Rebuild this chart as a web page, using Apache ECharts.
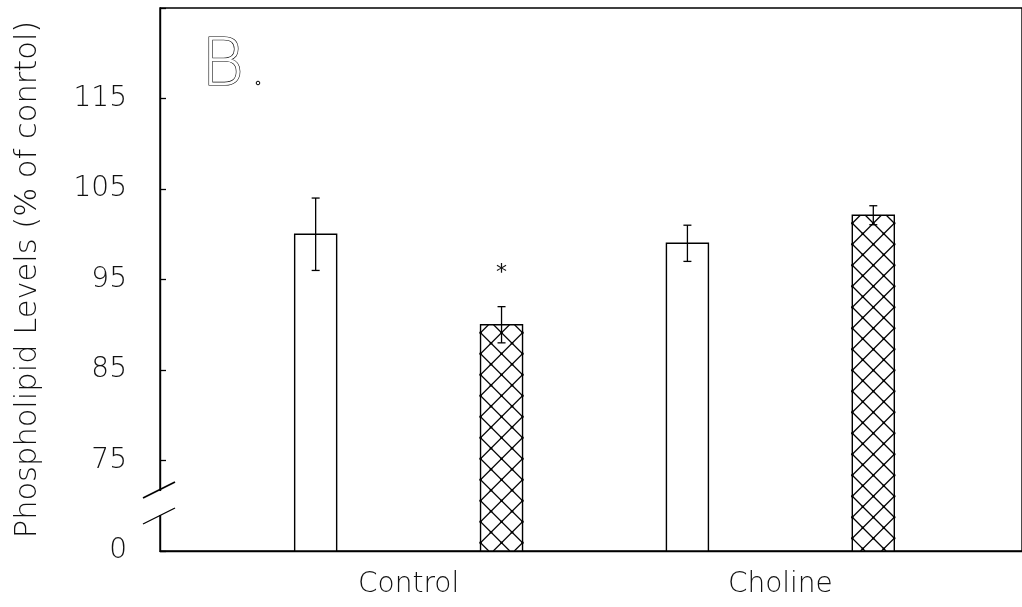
<!DOCTYPE html>
<html>
<head>
<meta charset="utf-8">
<title>Phospholipid Levels</title>
<script src="https://cdn.jsdelivr.net/npm/echarts@6/dist/echarts.min.js"></script>
<style>
  html, body { margin: 0; padding: 0; background: #fff; }
  #chart { width: 1022px; height: 607px; }
</style>
</head>
<body>
<div id="chart"></div>
<script>
// Groups along the x axis
const groups = ['Control', 'Choline'];

// Phospholipid levels, % of control (open bars / cross-hatched bars)
const openValues = [100.0, 99.0];
const openErrors = [4.0, 2.0];
const hatchedValues = [90.0, 102.1];
const hatchedErrors = [2.0, 1.05];
const hatchedSignificance = ['*', ''];

// Y tick labels (the axis is broken between 0 and 75)
const yTickLabels = ['0', '75', '85', '95', '105', '115', ''];

// Axis break: everything from 0 up to 65 is collapsed, so 65 sits on the baseline
const BREAK_BASE = 65;
const FONT = '"DejaVu Sans", sans-serif';
const INK = '#111';
const HATCH = 21;       // diamond size of the cross-hatching, px
const BAR_W = 42;       // bar width, px

// Slot on the x axis: two bars per group, open first
function slot(groupIndex, hatched) { return groupIndex * 2 + (hatched ? 2 : 1); }

function buildData(values, errors, marks, hatched) {
  return values.map((v, i) => [slot(i, hatched), v - BREAK_BASE, errors[i], marks ? marks[i] : '']);
}

// Diagonal cross-hatch lines clipped to a rectangle, anchored at its top-left
function hatchLines(x0, y0, x1, y1) {
  const out = [];
  const ya = y0 + 8;
  const style = { stroke: '#000', lineWidth: 1.2 };
  // down-right lines: y = x - c
  const cStart = x0 - ya;
  for (let k = Math.floor((x0 - y1 - cStart) / HATCH) - 1; k <= Math.ceil((x1 - y0 - cStart) / HATCH) + 1; k++) {
    const c = cStart + k * HATCH;
    const xa = Math.max(x0, y0 + c), xb = Math.min(x1, y1 + c);
    if (xb > xa) out.push({ type: 'line', shape: { x1: xa, y1: xa - c, x2: xb, y2: xb - c }, style });
  }
  // up-right lines: y = d - x
  const dStart = x0 + ya;
  for (let k = Math.floor((x0 + y0 - dStart) / HATCH) - 1; k <= Math.ceil((x1 + y1 - dStart) / HATCH) + 1; k++) {
    const d = dStart + k * HATCH;
    const xa = Math.max(x0, d - y1), xb = Math.min(x1, d - y0);
    if (xb > xa) out.push({ type: 'line', shape: { x1: xa, y1: d - xa, x2: xb, y2: d - xb }, style });
  }
  // ink dots where the lines cross
  const half = HATCH / 2;
  for (let m = Math.floor((y0 - ya) / half); ya + m * half <= y1; m++) {
    const y = ya + m * half;
    if (y < y0) continue;
    const shift = (Math.abs(m) % 2) ? half : 0;
    for (let x = x0 + shift; x <= x1 + 0.5; x += HATCH) {
      out.push({ type: 'circle', shape: { cx: x, cy: y, r: 1.3 }, style: { fill: '#000' } });
    }
  }
  return out;
}

function renderBar(hatched) {
  return function (params, api) {
    const x = api.value(0), u = api.value(1), e = api.value(2), mark = api.value(3);
    const base = api.coord([x, 0]);
    const top = api.coord([x, u]);
    const hi = api.coord([x, u + e]);
    const lo = api.coord([x, u - e]);
    const cap = 4;
    const x0 = base[0] - BAR_W / 2, x1 = base[0] + BAR_W / 2;
    const children = [
      { type: 'rect', shape: { x: x0, y: top[1], width: BAR_W, height: base[1] - top[1] },
        style: { fill: '#fff' } }
    ];
    if (hatched) children.push.apply(children, hatchLines(x0, top[1], x1, base[1]));
    children.push(
      { type: 'rect', shape: { x: x0, y: top[1], width: BAR_W, height: base[1] - top[1] },
        style: { fill: 'none', stroke: '#000', lineWidth: 1.4 } },
      { type: 'line', shape: { x1: hi[0], y1: hi[1], x2: lo[0], y2: lo[1] },
        style: { stroke: '#000', lineWidth: 1.3 } },
      { type: 'line', shape: { x1: hi[0] - cap, y1: hi[1], x2: hi[0] + cap, y2: hi[1] },
        style: { stroke: '#000', lineWidth: 1.3 } },
      { type: 'line', shape: { x1: lo[0] - cap, y1: lo[1], x2: lo[0] + cap, y2: lo[1] },
        style: { stroke: '#000', lineWidth: 1.3 } }
    );
    if (mark) {
      children.push({ type: 'text', x: hi[0], y: hi[1] - 33,
        style: { text: mark, fontSize: 22, fontFamily: FONT, fill: INK,
                 align: 'center', verticalAlign: 'middle' } });
    }
    return { type: 'group', children: children };
  };
}

const chart = echarts.init(document.getElementById('chart'), null, { renderer: 'canvas' });

const option = {
  animation: false,
  backgroundColor: '#fff',
  title: {
    text: 'B',
    left: 196,
    top: 30,
    textStyle: {
      fontSize: 66, fontFamily: FONT, fontWeight: 200, color: '#fff',
      textBorderColor: '#000', textBorderWidth: 1.2
    }
  },
  grid: {
    show: true, left: 160, top: 8, right: -3, bottom: 56,
    borderColor: '#000', borderWidth: 1.4, backgroundColor: 'transparent'
  },
  xAxis: {
    type: 'value',
    min: 0.1626, max: 4.8,
    axisLine: { show: true, lineStyle: { color: '#000', width: 1.4 } },
    axisTick: { show: false },
    splitLine: { show: false },
    axisLabel: {
      customValues: groups.map((g, i) => (slot(i, false) + slot(i, true)) / 2),
      formatter: v => groups[Math.round((v - 1.5) / 2)] || '',
      fontSize: 28, fontFamily: FONT, fontWeight: 200, color: INK, margin: 20
    }
  },
  yAxis: {
    type: 'value',
    min: 0, max: 60, interval: 10,
    name: 'Phospholipid Levels (% of conrtol)',
    nameLocation: 'middle',
    nameRotate: 90,
    nameGap: 116,
    nameTextStyle: { fontSize: 30.5, fontFamily: FONT, fontWeight: 200, color: INK },
    axisLine: { show: true, lineStyle: { color: '#000', width: 1.4 } },
    axisTick: { show: true, inside: true, length: 6, lineStyle: { color: '#000', width: 1.3 } },
    splitLine: { show: false },
    axisLabel: {
      formatter: (v, i) => yTickLabels[i] || '',
      fontSize: 28, fontFamily: FONT, fontWeight: 200, color: INK, margin: 33
    }
  },
  series: [
    { type: 'custom', name: 'open', renderItem: renderBar(false),
      data: buildData(openValues, openErrors, null, false), clip: false },
    { type: 'custom', name: 'hatched', renderItem: renderBar(true),
      data: buildData(hatchedValues, hatchedErrors, hatchedSignificance, true), clip: false }
  ]
};

chart.setOption(option);

// Axis-break marks on the y axis, between the baseline and the first tick
const brk = chart.convertToPixel({ gridIndex: 0 }, [0.1626, 5.3]);
const ax = brk[0], cy = brk[1];
function slash(dy, w) {
  return { type: 'line', shape: { x1: ax - 17, y1: cy + dy + 8, x2: ax + 15, y2: cy + dy - 8 },
           style: { stroke: '#000', lineWidth: w }, z: 100 };
}
chart.setOption({
  graphic: [
    { type: 'rect', shape: { x: ax - 3, y: cy - 12, width: 6, height: 24 },
      style: { fill: '#fff' }, z: 99 },
    slash(-13, 1.8),
    slash(13, 1.3),
    // period after the panel letter
    { type: 'circle', shape: { cx: 258, cy: 83, r: 1.8 },
      style: { fill: '#fff', stroke: '#000', lineWidth: 1 }, z: 100 }
  ]
});
</script>
</body>
</html>
